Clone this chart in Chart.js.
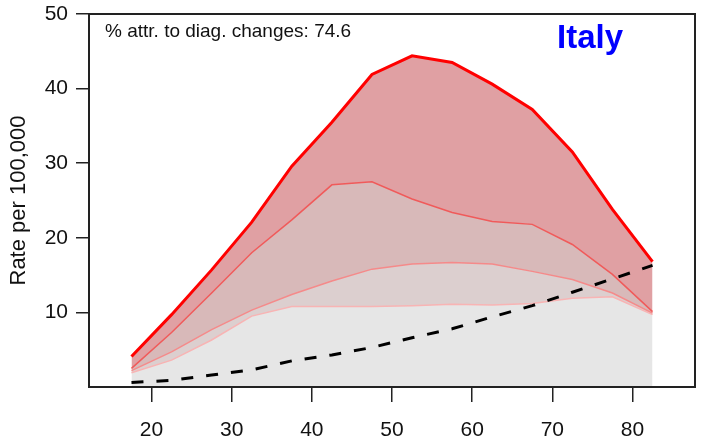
<!DOCTYPE html>
<html>
<head>
<meta charset="utf-8">
<script src="https://cdn.jsdelivr.net/npm/chart.js@4.4.0/dist/chart.umd.min.js"></script>
<style>
  html, body { margin: 0; padding: 0; background: #fff; }
  #wrap { width: 701px; height: 447px; }
</style>
</head>
<body>
<div id="wrap"><canvas id="chart"></canvas></div>
<script>
// ── DATA ─────────────────────────────────────────────────
const ages       = [17.5, 22.5, 27.5, 32.5, 37.5, 42.5, 47.5, 52.5, 57.5, 62.5, 67.5, 72.5, 77.5, 82.5];
const upperRate  = [4.1, 9.7, 15.7, 22.1, 29.6, 35.5, 41.9, 44.4, 43.5, 40.6, 37.2, 31.5, 23.8, 16.8];
const midRate    = [2.5, 7.3, 12.6, 18.0, 22.4, 27.1, 27.5, 25.2, 23.4, 22.2, 21.8, 19.1, 15.1, 10.1];
const lowRate    = [2.2, 4.7, 7.7, 10.3, 12.4, 14.2, 15.8, 16.5, 16.7, 16.5, 15.5, 14.4, 12.6, 9.9];
const baseRate   = [1.9, 3.6, 6.3, 9.5, 10.8, 10.8, 10.8, 10.9, 11.1, 11.0, 11.2, 11.9, 12.1, 9.7];
const otherRate  = [0.6, 0.9, 1.6, 2.3, 3.5, 4.3, 5.3, 6.6, 7.8, 9.4, 10.9, 12.7, 14.5, 16.3];
const xTicks     = [20, 30, 40, 50, 60, 70, 80];
const yTicks     = [10, 20, 30, 40, 50];
const noteText   = '% attr. to diag. changes: 74.6';
const countryName = 'Italy';

const pts = vals => vals.map((v, i) => ({ x: ages[i], y: v }));

// ── PLOT BOX + TEXT ──────────────────────────────────────
const boxPlugin = {
  id: 'box',
  afterDraw(chart) {
    const { ctx, chartArea: a } = chart;
    ctx.save();
    ctx.strokeStyle = '#222';
    ctx.lineWidth = 2;
    ctx.strokeRect(a.left, a.top, a.right - a.left, a.bottom - a.top);

    ctx.fillStyle = '#111';
    ctx.font = '19px "Liberation Sans", Arial, sans-serif';
    ctx.textBaseline = 'alphabetic';
    ctx.textAlign = 'left';
    ctx.fillText(noteText, a.left + 16, 37);

    ctx.fillStyle = '#0000ff';
    ctx.font = 'bold 33px "Liberation Sans", Arial, sans-serif';
    ctx.textAlign = 'center';
    ctx.fillText(countryName, 590, 48);
    ctx.restore();
  }
};

const tickFont = { family: '"Liberation Sans", Arial, sans-serif', size: 21 };

new Chart(document.getElementById('chart'), {
  type: 'line',
  data: {
    datasets: [
      { data: pts(otherRate), borderColor: '#000', borderWidth: 3, borderDash: [12, 13], fill: false },
      { data: pts(upperRate), borderColor: '#ff0000', borderWidth: 3, backgroundColor: '#e0a0a3', fill: 2 },
      { data: pts(midRate),   borderColor: '#f05a5a', borderWidth: 1.5, backgroundColor: '#d8b9b9', fill: 3 },
      { data: pts(lowRate),   borderColor: '#f58a8a', borderWidth: 1.5, backgroundColor: '#dccfcf', fill: 4 },
      { data: pts(baseRate),  borderColor: '#f8b4b4', borderWidth: 1.5, backgroundColor: '#e6e6e6', fill: 'origin' }
    ]
  },
  options: {
    responsive: true,
    maintainAspectRatio: false,
    animation: false,
    events: [],
    elements: { point: { radius: 0 }, line: { tension: 0 } },
    layout: { padding: { top: 14, right: 6, left: 0, bottom: 0 } },
    plugins: {
      legend: { display: false },
      tooltip: { enabled: false },
      filler: { drawTime: 'beforeDatasetsDraw' }
    },
    scales: {
      x: {
        type: 'linear',
        min: 12.2,
        max: 87.8,
        afterBuildTicks: s => { s.ticks = xTicks.map(v => ({ value: v })); },
        afterFit: s => { s.height = 60; s.paddingLeft = 0; s.paddingRight = 0; },
        border: { display: false },
        grid: { drawOnChartArea: false, drawTicks: true, tickLength: 15, color: '#222', lineWidth: 1.5 },
        ticks: { color: '#111', font: tickFont, padding: 16, maxRotation: 0 }
      },
      y: {
        min: 0,
        max: 50,
        afterBuildTicks: s => { s.ticks = yTicks.map(v => ({ value: v })); },
        afterFit: s => { s.width = 89; s.paddingTop = 0; s.paddingBottom = 0; },
        border: { display: false },
        grid: { drawOnChartArea: false, drawTicks: true, tickLength: 13, color: '#222', lineWidth: 1.5 },
        ticks: { color: '#111', font: tickFont, padding: 8 },
        title: {
          display: true,
          text: 'Rate per 100,000',
          color: '#111',
          font: { family: '"Liberation Sans", Arial, sans-serif', size: 22 },
          padding: { top: 6, bottom: 0 }
        }
      }
    }
  },
  plugins: [boxPlugin]
});
</script>
</body>
</html>
